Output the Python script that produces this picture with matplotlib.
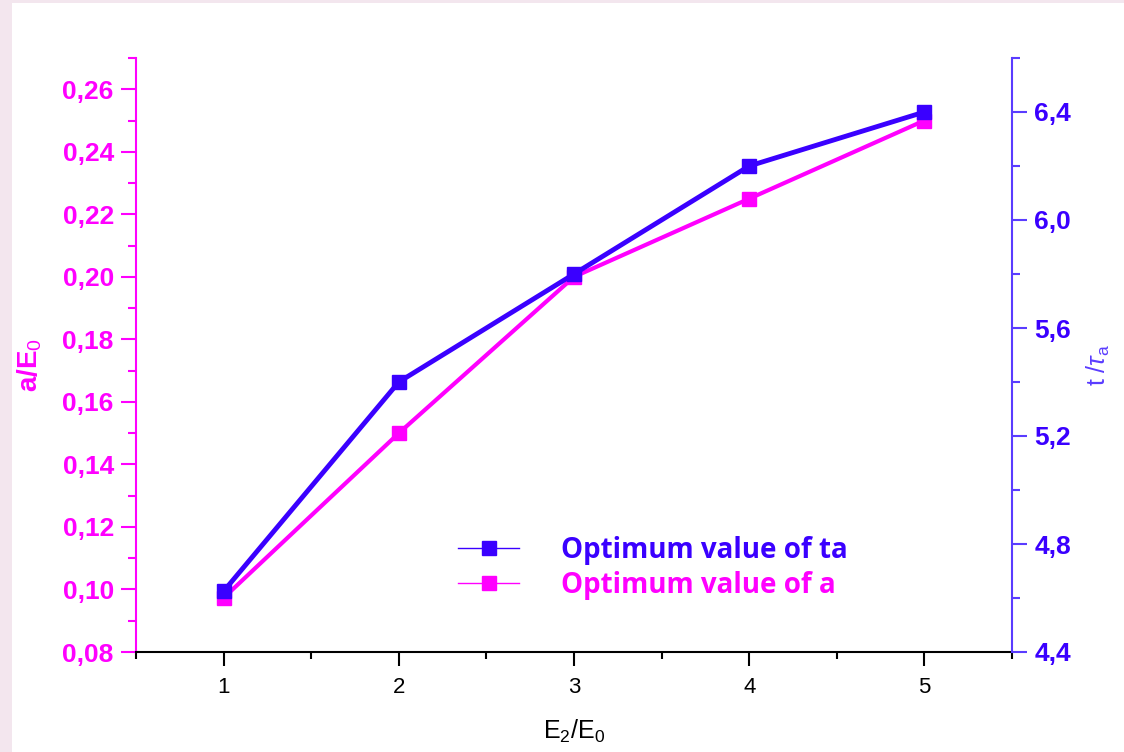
import matplotlib; matplotlib.use("Agg")
import matplotlib.pyplot as plt
from matplotlib.lines import Line2D
from matplotlib.patches import Rectangle
from matplotlib.ticker import MultipleLocator, FuncFormatter

plt.rcParams["font.family"] = ["Liberation Sans", "DejaVu Sans"]
plt.rcParams["mathtext.fontset"] = "custom"
plt.rcParams["mathtext.rm"] = "Liberation Sans"
plt.rcParams["mathtext.it"] = "Liberation Sans:italic"
plt.rcParams["mathtext.bf"] = "Liberation Sans:bold"

# data
e_ratio = [1, 2, 3, 4, 5]
a_opt = [0.0973, 0.150, 0.200, 0.225, 0.250]
ta_opt = [4.625, 5.40, 5.80, 6.20, 6.40]

MAG = "#ff00ff"
BLU = "#3a00ff"
BLU_LT = "#5a3cff"

fig = plt.figure(figsize=(11.24, 7.52), dpi=100)
fig.patch.set_facecolor("#f3e6ee")
fig.patches.append(Rectangle((12/1124, 0), 1, 1 - 3/752, transform=fig.transFigure,
                             facecolor="white", edgecolor="none", zorder=-10))

ax = fig.add_axes([136/1124, 100/752, 876/1124, 594/752])
ax.set_facecolor("none")
ax2 = ax.twinx()

ax.plot(e_ratio, a_opt, color=MAG, lw=3, marker="s", ms=10, zorder=3)
ax2.plot(e_ratio, ta_opt, color=BLU, lw=3.5, marker="s", ms=10, zorder=4)

ax.set_xlim(0.5, 5.5)
ax.set_ylim(0.08, 0.27)
ax2.set_ylim(4.4, 6.6)

comma = lambda fmt: FuncFormatter(lambda v, p: format(v, fmt).replace(".", ","))
ax.yaxis.set_major_locator(MultipleLocator(0.02))
ax.yaxis.set_minor_locator(MultipleLocator(0.01))
ax.yaxis.set_major_formatter(comma(".2f"))
ax2.yaxis.set_major_locator(MultipleLocator(0.4))
ax2.yaxis.set_minor_locator(MultipleLocator(0.2))
ax2.yaxis.set_major_formatter(comma(".1f"))
ax.xaxis.set_major_locator(MultipleLocator(1))
ax.xaxis.set_minor_locator(MultipleLocator(0.5))

for a in (ax, ax2):
    a.spines["top"].set_visible(False)
ax2.spines["left"].set_visible(False)
ax2.spines["bottom"].set_visible(False)
ax.spines["right"].set_visible(False)
ax.spines["left"].set_color(MAG)
ax.spines["left"].set_linewidth(1.5)
ax.spines["bottom"].set_linewidth(1.5)
ax2.spines["right"].set_color(BLU_LT)
ax2.spines["right"].set_linewidth(1.5)

ax.tick_params(axis="y", which="major", colors=MAG, length=11, width=1.5, labelsize=19, pad=5)
ax.tick_params(axis="y", which="minor", colors=MAG, length=6, width=1.5)
for t in ax.get_yticklabels():
    t.set_fontweight("bold")
ax.tick_params(axis="x", which="major", length=10, width=1.5, labelsize=16, pad=8)
ax.tick_params(axis="x", which="minor", length=5, width=1.5)
ax2.tick_params(axis="y", which="major", color=BLU_LT, labelcolor=BLU, length=11, width=1.5,
                labelsize=19, pad=5)
ax2.tick_params(axis="y", which="minor", color=BLU_LT, length=6, width=1.5)
for t in ax2.get_yticklabels():
    t.set_fontweight("bold")

ax.set_xlabel(r"E$_2$/E$_0$", fontsize=18, labelpad=14)
fig.text(30/1124, 1 - 365/752, r"a/E$_\mathrm{0}$", color=MAG, fontsize=20, fontweight="bold",
         rotation=90, ha="center", va="center")
fig.text(1098/1124, 1 - 365/752, r"t /$\tau_{\mathrm{a}}$", color=BLU_LT, fontsize=18,
         rotation=90, ha="center", va="center")

handles = [Line2D([], [], color=BLU, lw=1, marker="s", ms=10),
           Line2D([], [], color=MAG, lw=1, marker="s", ms=10)]
lg = ax2.legend(handles, ["Optimum value of ta", "Optimum value of a"],
                loc="upper left", bbox_to_anchor=(458/1124, 1 - 536/752),
                bbox_transform=fig.transFigure, frameon=False, borderaxespad=0, borderpad=0,
                handlelength=2.2, handletextpad=1.5, labelspacing=0.2,
                prop={"family": "Open Sans", "weight": "bold", "size": 20})
for txt, c in zip(lg.get_texts(), [BLU, MAG]):
    txt.set_color(c)

fig.savefig("out.png", dpi=100)
